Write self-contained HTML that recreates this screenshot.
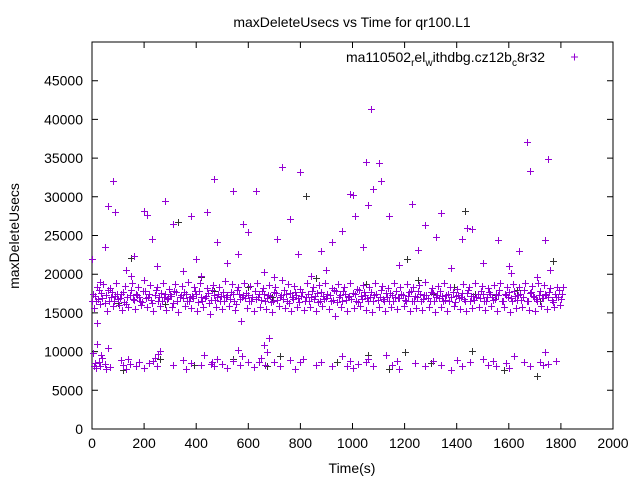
<!DOCTYPE html>
<html><head><meta charset="utf-8"><style>
body{margin:0;background:#fff}
svg text{font-family:"Liberation Sans",sans-serif;font-size:14px;fill:#000}
</style></head><body>
<svg id="chart" width="640" height="480" xmlns="http://www.w3.org/2000/svg">
<rect width="640" height="480" fill="#fff"/>
<text x="352" y="27" text-anchor="middle">maxDeleteUsecs vs Time for qr100.L1</text>
<text transform="translate(19,236) rotate(-90)" text-anchor="middle">maxDeleteUsecs</text>
<text x="352" y="473" text-anchor="middle">Time(s)</text>
<g id="axes"></g>
<g id="marks"></g>
<text x="545" y="62" text-anchor="end">ma110502<tspan font-size="10" dy="4">r</tspan><tspan dy="-4">el</tspan><tspan font-size="10" dy="4">w</tspan><tspan dy="-4">ithdbg.cz12b</tspan><tspan font-size="10" dy="4">c</tspan><tspan dy="-4">8r32</tspan></text>
<path d="M571,57h7M574.5,53.5v7" stroke="#9400d3" stroke-width="1"/>
</svg>
<script>
const xTicks=[0,200,400,600,800,1000,1200,1400,1600,1800,2000];
const yTicks=[0,5000,10000,15000,20000,25000,30000,35000,40000,45000];
const bandT=[0,12,24,36,48,60,72,84,96,108,120,132,144,156,168,180,192,204,216,228,240,252,264,276,288,300,312,324,336,348,360,372,384,396,408,420,432,444,456,468,480,492,504,516,528,540,552,564,576,588,600,612,624,636,648,660,672,684,696,708,720,732,744,756,768,780,792,804,816,828,840,852,864,876,888,900,912,924,936,948,960,972,984,996,1008,1020,1032,1044,1056,1068,1080,1092,1104,1116,1128,1140,1152,1164,1176,1188,1200,1212,1224,1236,1248,1260,1272,1284,1296,1308,1320,1332,1344,1356,1368,1380,1392,1404,1416,1428,1440,1452,1464,1476,1488,1500,1512,1524,1536,1548,1560,1572,1584,1596,1608,1620,1632,1644,1656,1668,1680,1692,1704,1716,1728,1740,1752,1764,1776,1788,1800];
const bandA=[16500,17200,16800,17600,16300,17900,17100,16600,17400,16900,17700,16200,17300,16800,17500,17000,16400,17800,17100,16700,17300,16500,17600,17000,16800,17400,16300,17700,17100,16900,17500,16600,17200,17800,16400,17100,16900,17600,16700,17300,17000,16500,17700,17100,16800,17400,16200,17500,17000,16900,17300,16600,17800,17100,16700,17400,16900,17200,16500,17600,17000,16800,17500,16300,17100,17700,16900,17200,16600,17400,17000,16800,17600,16500,17200,16900,17300,16700,17800,17000,16600,17400,17100,16800,17500,16400,17200,17700,16900,17100,16600,17400,17000,16800,17600,16500,17300,17100,16900,17500,16700,17200,17800,16600,17000,17400,16800,17300,16500,17600,17100,16900,17200,16700,17500,17000,16400,17300,17100,16800,17600,16600,17200,17000,16900,17400,16500,17700,17100,16800,17300,16600,17500,17000,16900,17800,16700,17400,17100,16500,17600,17200,16800,17300,16900,17500,17000,16700,17400,17100,16800];
const bandB=[17400,16600,17900,16900,17300,16500,17700,17200,16800,17500,16400,17100,18000,16700,17300,16600,17800,16900,17400,16300,17900,17100,16600,17500,16900,17200,17800,16500,17300,17700,16600,17100,16900,17400,17800,16500,17200,16300,17900,16700,17500,17200,16600,17300,17700,16500,17900,16800,17300,17600,16500,17100,16800,17400,17800,16600,17300,16400,17700,16700,17300,17900,16500,17600,16800,17300,16400,17700,17100,16600,17800,17200,16400,17700,16800,17500,16600,17900,16400,17300,17800,16700,17200,17600,16500,17900,16800,17300,16500,17700,17300,16700,17900,16600,17100,17600,16500,17800,16900,17300,16600,17700,16500,17200,17800,16600,17300,16900,17700,16600,17300,17800,16600,17300,16500,17700,17200,16900,17600,16500,17900,17200,16700,17500,17800,16600,17100,17500,16700,17400,17900,16600,17300,17700,16500,17200,17300,16700,17900,16500,17700,17100,16600,17800,16900,17300,17700,16400,17100,17900,17400];
const bandC=[15600,18400,16100,18700,15300,18200,15900,18900,16000,15400,18500,15800,18800,15500,18300,16000,19200,15700,18600,15200,18400,15900,18900,15400,18100,15800,18700,15100,18500,15900,19000,15600,18300,15300,18800,15700,18200,14900,18600,15800,18400,15500,19100,15900,18700,15400,18300,13900,18800,15600,18500,15200,18900,15800,18200,15500,18600,15100,18400,15900,19300,15600,18700,15300,18500,15800,18100,15400,18900,15700,18300,15200,18600,15900,18800,15500,18200,14600,18700,15800,18400,15300,18900,15600,18100,15900,18600,15400,18300,15100,18800,15700,18500,15300,18200,15800,18900,15500,18400,15900,18700,15200,18300,15600,18600,15400,19000,15800,18200,15100,18500,15700,18800,15300,18400,15900,18100,15500,18700,15200,18300,15600,18900,15800,18500,15400,18200,15900,18600,15300,18800,15700,18400,15100,18700,15600,18300,15800,18900,15400,18500,15200,18800,15900,18600,15500,18200,15700,18400,16000,18300];
const lowPts=[5,9800,10,8500,15,7900,20,11000,25,8700,30,8100,40,9200,50,8400,60,10500,70,8000,110,8900,120,8300,130,7700,140,9000,170,8200,180,8600,200,7900,220,8500,240,9200,250,8100,260,10100,310,8300,350,8900,360,7800,380,8500,420,8300,430,9600,460,8700,470,8100,480,9100,500,8400,520,7900,540,8800,560,10200,570,8300,600,8700,620,8000,650,9200,660,10800,665,8300,680,11800,700,8600,720,8200,760,8900,780,7800,800,8600,810,9100,860,8300,880,8700,920,8100,960,9400,980,8200,990,8800,1000,7900,1050,8600,1080,8100,1130,9600,1150,8300,1170,8800,1180,7700,1240,8500,1280,8100,1310,8800,1340,8300,1380,7600,1400,8900,1420,8200,1450,8600,1500,9100,1520,8300,1540,8800,1590,8500,1600,7900,1620,9400,1660,8700,1680,8200,1720,8600,1740,9900,1750,8400,1780,8800,8,8200,35,9500,55,7800,145,8400,235,8800,255,9700,455,8400,575,9400,640,8600,670,9900,1020,8400,1060,9100,1550,8100,1730,8300];
const highPts=[0,22000,20,13700,30,19000,50,23500,60,28800,80,32000,90,28000,130,20500,150,19800,160,22300,200,28200,210,27700,230,24500,250,21000,280,29500,310,26500,350,20400,380,27500,400,22000,420,19800,440,28000,470,32300,480,24200,520,21500,540,30700,560,22600,580,26500,600,25500,630,30800,660,20300,700,19600,710,24500,730,33800,760,27100,790,22600,800,33200,840,19800,880,23000,900,20600,920,24200,960,25600,990,30300,1000,30200,1010,27500,1040,23500,1050,34500,1060,29000,1070,41400,1080,31000,1100,34400,1110,32100,1140,27500,1180,21200,1230,29100,1250,23100,1280,26300,1320,24800,1340,27900,1380,20800,1420,24500,1440,26000,1460,25800,1500,21500,1560,24400,1600,21000,1610,20200,1640,23000,1670,37100,1680,33300,1710,19700,1740,24400,1750,34900,1760,20600];
const darkPts=[100,16300,150,22100,280,16200,330,26700,420,19600,470,17800,600,18400,690,17000,820,30100,860,19500,920,18200,1050,18700,1110,32100,1210,22000,1250,19300,1310,17500,1390,18300,1430,28200,1470,17400,1550,17300,1630,17900,1720,16600,1770,21700,120,7600,260,9100,390,8300,540,9000,670,8100,720,9400,940,8700,1060,9600,1140,7800,1200,9900,1300,8500,1460,10100,1580,7600,1710,6900];
const X0=92,X1=613,Y0=429,Y1=42,XMAX=2000,YMAX=50000;
const sx=v=>X0+v/XMAX*(X1-X0);
const sy=v=>Y0-v/YMAX*(Y0-Y1);
const NS="http://www.w3.org/2000/svg";
const axes=document.getElementById('axes'),marks=document.getElementById('marks');
let d=`M${X0},${Y1}H${X1}V${Y0}H${X0}Z`;
const frame=document.createElementNS(NS,'path');
frame.setAttribute('d',d);frame.setAttribute('fill','none');frame.setAttribute('stroke','#000');


axes.appendChild(frame);
let td='';
xTicks.forEach(t=>{const x=sx(t);td+=`M${x},${Y0}v-6M${x},${Y1}v6`;
const tx=document.createElementNS(NS,'text');tx.setAttribute('x',x);tx.setAttribute('y',Y0+19);tx.setAttribute('text-anchor','middle');tx.textContent=t;


axes.appendChild(tx);});
yTicks.forEach(t=>{const y=sy(t);td+=`M${X0},${y}h6M${X1},${y}h-6`;
const tx=document.createElementNS(NS,'text');tx.setAttribute('x',X0-9);tx.setAttribute('y',y+5);tx.setAttribute('text-anchor','end');tx.textContent=t;


axes.appendChild(tx);});
const tp=document.createElementNS(NS,'path');tp.setAttribute('d',td);tp.setAttribute('stroke','#000');


axes.appendChild(tp);
function plus(pts,color,name){let p='';for(let i=0;i<pts.length;i+=2){const x=Math.round(sx(pts[i]))+0.5,y=Math.round(sy(pts[i+1]))+0.5;p+=`M${x-3.5},${y}h7M${x},${y-3.5}v7`;}
const el=document.createElementNS(NS,'path');el.setAttribute('d',p);el.setAttribute('stroke',color);el.setAttribute('fill','none');


marks.appendChild(el);}
const bandPts=[];bandT.forEach((t,i)=>{bandPts.push(t,bandA[i]);bandPts.push(t+4,bandB[i]);bandPts.push(t+8,bandC[i]);});
plus(darkPts,'#333','series-dark-points');
plus(bandPts,'#9400d3','series-band-points');
plus(lowPts,'#9400d3','series-low-points');
plus(highPts,'#9400d3','series-high-points');
</script>
</body></html>
